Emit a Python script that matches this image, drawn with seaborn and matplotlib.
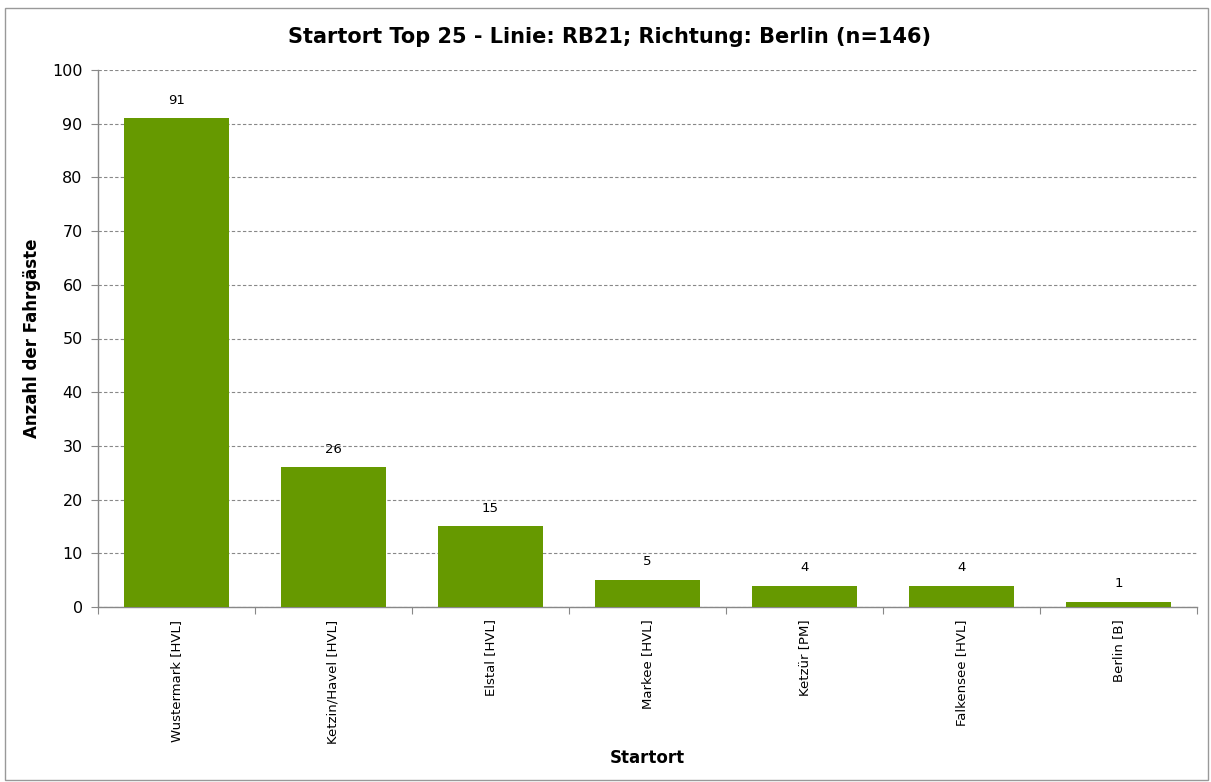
import pandas as pd
import seaborn as sns
import matplotlib.pyplot as plt
from matplotlib.patches import Rectangle

# Daten
startorte = ['Wustermark [HVL]', 'Ketzin/Havel [HVL]', 'Elstal [HVL]', 'Markee [HVL]',
             'Ketzür [PM]', 'Falkensee [HVL]', 'Berlin [B]']
anzahl = [91, 26, 15, 5, 4, 4, 1]
y_ticks = [0, 10, 20, 30, 40, 50, 60, 70, 80, 90, 100]

df = pd.DataFrame({'Startort': startorte, 'Anzahl': anzahl})

sns.set_style('white')
plt.rcParams['font.family'] = ['DejaVu Sans']
plt.rcParams['text.color'] = 'black'
plt.rcParams['axes.labelcolor'] = 'black'
plt.rcParams['xtick.color'] = 'black'
plt.rcParams['ytick.color'] = 'black'

fig = plt.figure(figsize=(12.11, 7.82), dpi=100)
ax = fig.add_axes([98 / 1211, 1 - 607 / 782, 1099 / 1211, 537 / 782])

sns.barplot(data=df, x='Startort', y='Anzahl', color='#669900', saturation=1,
            width=0.67, linewidth=0, ax=ax, zorder=3)

for i, v in enumerate(anzahl):
    ax.text(i, v + 2.2, str(v), ha='center', va='bottom', fontsize=9.5, color='black')

ax.set_ylim(0, 100)
ax.set_xlim(-0.5, len(startorte) - 0.5)
ax.set_yticks(y_ticks)
ax.tick_params(axis='y', left=True, labelsize=11.5, length=5, color='#888888',
               labelcolor='black', pad=6)
ax.yaxis.grid(True, linestyle=(0, (3, 2)), color='#888888', linewidth=0.8, zorder=0)

# Kategorie-Grenzen als Ticks
ax.set_xticks([i - 0.5 for i in range(len(startorte) + 1)], minor=False)
ax.set_xticklabels([])
ax.set_xticks(range(len(startorte)), minor=True)
ax.set_xticklabels(startorte, minor=True, rotation=90, fontsize=9.5, va='top')
ax.tick_params(axis='x', which='major', bottom=True, length=5, color='#888888',
               direction='out')
ax.tick_params(axis='x', which='minor', bottom=True, length=0, pad=9,
               labelcolor='black')

for side in ['top', 'right']:
    ax.spines[side].set_visible(False)
for side in ['left', 'bottom']:
    ax.spines[side].set_color('#888888')
    ax.spines[side].set_linewidth(1)

ax.set_xlabel('Startort', fontsize=12, fontweight='bold', labelpad=4)
ax.set_ylabel('Anzahl der Fahrgäste', fontsize=12, fontweight='bold', labelpad=8)
fig.suptitle('Startort Top 25 - Linie: RB21; Richtung: Berlin (n=146)',
             fontsize=15, fontweight='bold', x=609 / 1211, y=1 - 37 / 782,
             va='center', color='black')

# Rahmen um das Diagramm
fig.patches.append(Rectangle((5 / 1211, 2 / 782), 1203 / 1211, 772 / 782,
                             transform=fig.transFigure, fill=False,
                             edgecolor='#999999', linewidth=1))

plt.savefig('out.png', dpi=100)
